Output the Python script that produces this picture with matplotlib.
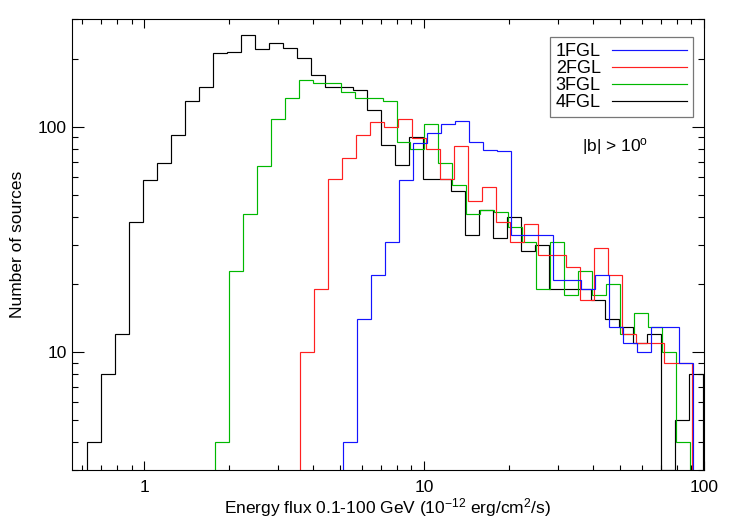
import matplotlib
matplotlib.use('Agg')
import matplotlib.pyplot as plt
import numpy as np
from matplotlib.ticker import LogLocator, NullFormatter, FixedLocator, FixedFormatter

plt.rcParams.update({'font.family': 'Liberation Sans', 'font.size': 12.5,
                     'mathtext.fontset': 'custom',
                     'mathtext.rm': 'Liberation Sans',
                     'mathtext.it': 'Liberation Sans:italic',
                     'axes.linewidth': 0.8})

# counts per bin of 0.05 dex in flux (bin k spans 10^(0.05k) .. 10^(0.05(k+1)))
k0_1fgl = 14
n_1fgl = [4, 14, 22, 31, 58, 85, 94, 103, 106, 86, 79, 78, 33, 33, 33,
          21, 21, 19, 22, 13, 11, 10, 13, 13, 9]
k0_2fgl = 11
n_2fgl = [10, 19, 59, 73, 92, 105, 100, 109, 89, 80, 59, 82, 47, 54, 38,
          31, 37, 27, 27, 24, 17, 29, 22, 12, 11, 11, 9, 9]
k0_3fgl = 5
n_3fgl = [4, 23, 41, 67, 108, 134, 161, 156, 156, 143, 134, 135, 131, 86,
          80, 103, 69, 55, 41, 43, 42, 36, 31, 19, 31, 18, 23, 18, 20, 12,
          15, 13, 10, 4]
k0_4fgl = -4
n_4fgl = [4, 8, 12, 38, 58, 69, 92, 131, 150, 213, 215, 255, 222, 236, 225,
          203, 170, 150, 151, 146, 119, 83, 68, 90, 59, 59, 52, 33, 43, 32,
          40, 28, 30, 19, 19, 19, 17, 14, 13, 11, 12, 2, 5, 8]

catalogs = ['1FGL', '2FGL', '3FGL', '4FGL']
colors = {'1FGL': '#1414ff', '2FGL': '#ff2020', '3FGL': '#00b800', '4FGL': 'black'}
shift = {'1FGL': 0.0107, '2FGL': 0.006, '3FGL': 0.0007, '4FGL': -0.0046}
data = {'1FGL': (k0_1fgl, n_1fgl), '2FGL': (k0_2fgl, n_2fgl),
        '3FGL': (k0_3fgl, n_3fgl), '4FGL': (k0_4fgl, n_4fgl)}

ymin, ymax = 3., 300.

fig = plt.figure(figsize=(7.32, 5.26), dpi=100)
ax = fig.add_axes([0.098, 0.1065, 0.864, 0.8565])

handles = {}
for name in ['4FGL', '3FGL', '2FGL', '1FGL']:
    k0, n = data[name]
    n = np.array(n, dtype=float)
    k = np.arange(k0, k0 + len(n) + 1)
    edges = 10 ** (0.05 * k + shift[name])
    ax.stairs(np.maximum(n, ymin), edges, baseline=ymin,
              color=colors[name], lw=0.85)
    handles[name], = ax.plot([], [], color=colors[name], lw=0.85)

ax.set_xscale('log')
ax.set_yscale('log')
ax.set_xlim(0.55, 100)
ax.set_ylim(ymin, ymax)

ax.xaxis.set_major_locator(FixedLocator([1, 10, 100]))
ax.xaxis.set_major_formatter(FixedFormatter(['1', '10', '100']))
ax.xaxis.set_minor_locator(LogLocator(base=10, subs=np.arange(2, 10)))
ax.xaxis.set_minor_formatter(NullFormatter())
ax.yaxis.set_major_locator(FixedLocator([10, 100]))
ax.yaxis.set_major_formatter(FixedFormatter(['10', '100']))
ax.yaxis.set_minor_locator(LogLocator(base=10, subs=np.arange(2, 10)))
ax.yaxis.set_minor_formatter(NullFormatter())

ax.tick_params(which='both', direction='in', top=True, right=True, width=0.8)
ax.tick_params(axis='x', which='major', length=6.5, pad=7)
ax.tick_params(axis='x', which='minor', length=3.6)
ax.tick_params(axis='y', which='major', length=8.8, pad=3.5)
ax.tick_params(axis='y', which='minor', length=4.3)

ax.set_xlabel(r'Energy flux 0.1-100 GeV (10$^{-12}$ erg/cm$^2$/s)', labelpad=1)
ax.set_ylabel('Number of sources', labelpad=9)

leg = ax.legend([handles[c] for c in catalogs], catalogs, loc='upper right',
                bbox_to_anchor=(0.983, 0.96), markerfirst=False, fancybox=False,
                framealpha=1, edgecolor='#777777', handlelength=4.2,
                labelspacing=0.0, fontsize=13, borderpad=0.33,
                handletextpad=0.6, borderaxespad=0)
leg.get_frame().set_linewidth(0.9)

ax.text(0.859, 0.718, r'|b| > 10$^{\rm o}$', transform=ax.transAxes,
        ha='center', va='center', fontsize=12.5)

fig.savefig('out.png', dpi=100)
